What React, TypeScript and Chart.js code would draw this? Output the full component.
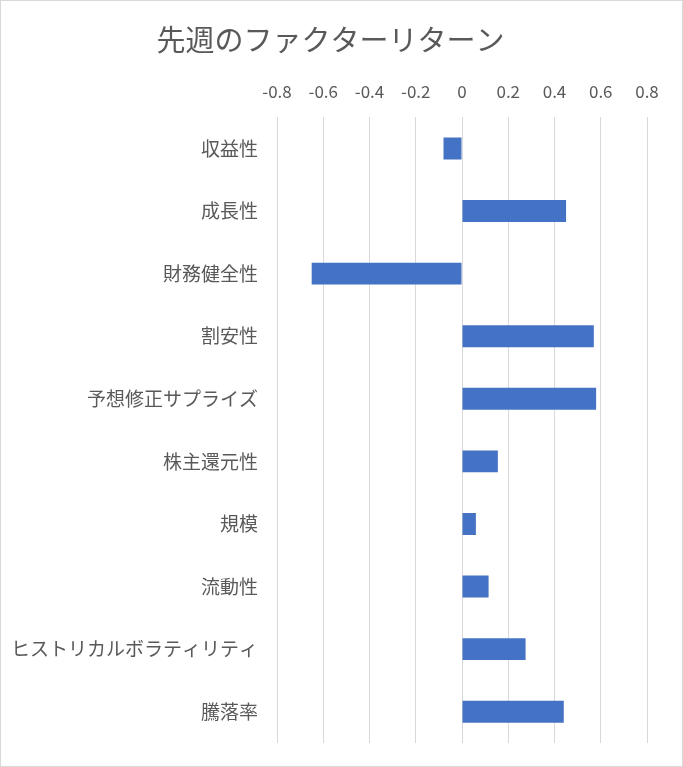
import { useEffect, useRef } from "react";
import Chart from "chart.js/auto";

const chartTitle = "先週のファクターリターン";

const factors = [
  "収益性",
  "成長性",
  "財務健全性",
  "割安性",
  "予想修正サプライズ",
  "株主還元性",
  "規模",
  "流動性",
  "ヒストリカルボラティリティ",
  "騰落率",
];

const returns = [-0.08, 0.45, -0.65, 0.57, 0.58, 0.155, 0.06, 0.115, 0.275, 0.44];

const axisMin = -0.8;
const axisMax = 0.8;
const axisStep = 0.2;

const textColor = "#595959";
const fontFamily = "'Noto Sans CJK JP', 'Noto Sans', sans-serif";

const App = () => {
  const canvasRef = useRef<HTMLCanvasElement>(null);

  useEffect(() => {
    document.body.style.margin = "0";
    let chart: Chart<"bar"> | null = null;

    if (canvasRef.current) {
      chart = new Chart(canvasRef.current, {
        type: "bar",
        data: {
          labels: factors,
          datasets: [
            {
              data: returns,
              backgroundColor: "#4472C4",
              barPercentage: 0.35,
              categoryPercentage: 1,
            },
          ],
        },
        options: {
          indexAxis: "y",
          animation: false,
          responsive: false,
          layout: {
            padding: { left: 13, right: 35, top: 0, bottom: 23 },
          },
          plugins: {
            legend: { display: false },
            tooltip: { enabled: false },
            title: {
              display: true,
              text: chartTitle,
              color: textColor,
              font: { family: fontFamily, size: 29, weight: "normal" },
              padding: { top: 22, bottom: 9 },
            },
          },
          scales: {
            x: {
              position: "top",
              min: axisMin,
              max: axisMax,
              border: { display: false },
              grid: { color: "#d9d9d9", lineWidth: 1, drawTicks: false },
              ticks: {
                stepSize: axisStep,
                color: textColor,
                padding: 15,
                font: { family: fontFamily, size: 17 },
                callback: (v) => (Number(v) === 0 ? "0" : Number(v).toFixed(1)),
              },
            },
            y: {
              border: { display: false },
              grid: { display: false, drawTicks: false },
              afterFit: (scale) => {
                scale.width = 263;
                scale.paddingTop = 0;
                scale.paddingBottom = 0;
              },
              ticks: {
                color: textColor,
                padding: 19,
                font: { family: fontFamily, size: 19 },
              },
            },
          },
        },
      });
    }

    return () => {
      if (chart) {
        chart.destroy();
      }
    };
  }, []);

  return (
    <div
      style={{
        width: 683,
        height: 767,
        boxSizing: "border-box",
        border: "1px solid #d9d9d9",
        background: "#fff",
      }}
    >
      <canvas ref={canvasRef} width={681} height={765} />
    </div>
  );
};

export default App;
